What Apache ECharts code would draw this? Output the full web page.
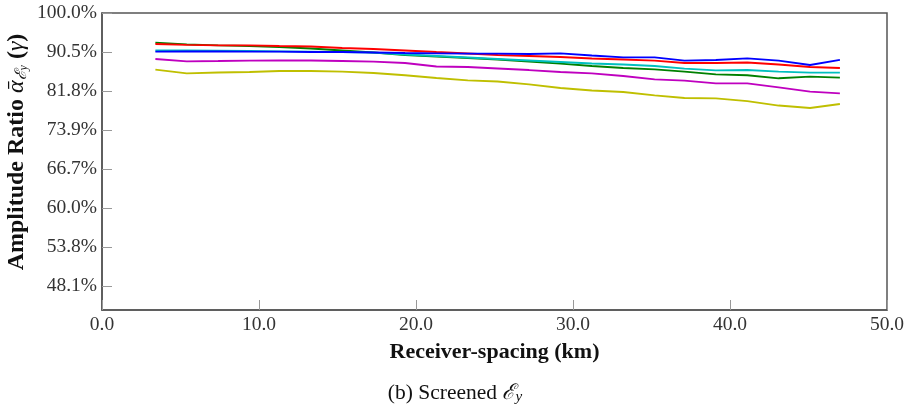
<!DOCTYPE html>
<html>
<head>
<meta charset="utf-8">
<script src="https://cdn.jsdelivr.net/npm/echarts@6/dist/echarts.min.js"></script>
<style>html,body{margin:0;padding:0;background:#fff}#c{width:911px;height:411px}</style>
</head>
<body>
<div id="c"></div>
<script>
// Receiver spacing (km)
const X_KM = [3.4, 5.4, 7.4, 9.4, 11.3, 13.3, 15.3, 17.3, 19.3, 21.3, 23.3, 25.2, 27.2, 29.2, 31.2, 33.2, 35.2, 37.1, 39.1, 41.1, 43.1, 45.1, 47.0];

// Amplitude ratio (%) per series
const RED     = [92.45, 92.25, 92.13, 92.13, 91.96, 91.84, 91.47, 91.23, 90.87, 90.50, 90.17, 89.83, 89.61, 89.38, 89.05, 88.83, 88.56, 88.05, 88.05, 88.16, 87.71, 87.15, 86.93];
const GREEN   = [92.77, 92.38, 92.13, 91.96, 91.72, 91.35, 90.87, 90.39, 89.83, 89.50, 89.16, 88.83, 88.38, 87.93, 87.38, 86.93, 86.64, 86.11, 85.53, 85.31, 84.64, 84.99, 84.77];
const BLUE    = [90.57, 90.62, 90.62, 90.57, 90.57, 90.50, 90.50, 90.39, 90.28, 90.21, 90.12, 90.12, 90.05, 90.21, 89.72, 89.32, 89.32, 88.56, 88.72, 89.09, 88.56, 87.60, 88.72];
const CYAN    = [90.87, 90.87, 90.82, 90.74, 90.67, 90.57, 90.46, 90.34, 89.94, 89.61, 89.27, 88.94, 88.60, 88.27, 87.93, 87.71, 87.38, 86.78, 86.42, 86.48, 86.11, 85.88, 85.88];
const MAGENTA = [88.94, 88.43, 88.49, 88.56, 88.60, 88.60, 88.49, 88.34, 88.05, 87.27, 87.15, 86.82, 86.48, 86.04, 85.71, 85.15, 84.41, 84.10, 83.52, 83.52, 82.63, 81.66, 81.33];
const YELLOW  = [86.59, 85.75, 85.93, 86.04, 86.26, 86.26, 86.11, 85.82, 85.31, 84.70, 84.15, 83.92, 83.26, 82.47, 81.91, 81.60, 80.93, 80.38, 80.32, 79.77, 78.86, 78.36, 79.17];

// Y tick labels (evenly spaced on the axis)
const Y_TICK_VALUES = [100.0, 90.5, 81.8, 73.9, 66.7, 60.0, 53.8, 48.1];
const Y_TICK_LABELS = ['100.0%', '90.5%', '81.8%', '73.9%', '66.7%', '60.0%', '53.8%', '48.1%'];

// map a percentage onto the evenly spaced tick positions (0 = top tick)
function toAxis(p) {
  for (let i = 0; i < Y_TICK_VALUES.length - 1; i++) {
    const a = Y_TICK_VALUES[i], b = Y_TICK_VALUES[i + 1];
    if (p <= a && p >= b) return i + (a - p) / (a - b);
  }
  return p > Y_TICK_VALUES[0] ? 0 : Y_TICK_VALUES.length - 1;
}
const pts = arr => X_KM.map((x, i) => [x, toAxis(arr[i])]);

const FONT = '"Liberation Serif", "DejaVu Serif", serif';
const AXIS_COLOR = '#555';

const seriesDefs = [
  ['green', GREEN, '#008000'],
  ['red', RED, '#ff0000'],
  ['cyan', CYAN, '#00bfbf'],
  ['blue', BLUE, '#0000ff'],
  ['magenta', MAGENTA, '#bf00bf'],
  ['yellow', YELLOW, '#bfbf00']
];

const chart = echarts.init(document.getElementById('c'), null, {renderer: 'canvas'});
chart.setOption({
  animation: false,
  backgroundColor: '#fff',
  grid: {left: 102, right: 24, top: 13, bottom: 101, show: true, borderColor: AXIS_COLOR, borderWidth: 1.5, backgroundColor: 'transparent'},
  xAxis: {
    type: 'value', min: 0, max: 50, interval: 10,
    name: 'Receiver-spacing (km)', nameLocation: 'middle', nameGap: 31,
    nameTextStyle: {fontFamily: FONT, fontSize: 22, fontWeight: 'bold', color: '#111'},
    axisLine: {show: true, onZero: false, lineStyle: {color: AXIS_COLOR, width: 1.5}},
    axisTick: {show: true, inside: true, length: 10, lineStyle: {color: '#999', width: 1}},
    axisLabel: {fontFamily: FONT, fontSize: 19.5, color: '#333', margin: 5, formatter: v => v.toFixed(1)},
    splitLine: {show: false}
  },
  yAxis: {
    type: 'value', min: 0, max: 7.615, interval: 1, inverse: true,
    axisLine: {show: true, onZero: false, lineStyle: {color: AXIS_COLOR, width: 1.5}},
    axisTick: {show: true, inside: true, length: 10, lineStyle: {color: '#999', width: 1}, customValues: Y_TICK_LABELS.map((_, i) => i)},
    axisLabel: {fontFamily: FONT, fontSize: 19.5, color: '#333', margin: 5, customValues: Y_TICK_LABELS.map((_, i) => i),
      formatter: v => { const i = Math.round(v); return Math.abs(v - i) < 1e-6 && i < Y_TICK_LABELS.length ? Y_TICK_LABELS[i] : ''; }},
    splitLine: {show: false}
  },
  series: seriesDefs.map(([name, arr, color]) => ({
    name, type: 'line', data: pts(arr), showSymbol: false, symbol: 'none',
    lineStyle: {color, width: 1.8}, itemStyle: {color}
  })),
  graphic: [
    {
      type: 'text', x: 17, y: 152, rotation: Math.PI / 2,
      style: {
        text: '{b|Amplitude Ratio }{a|α\u0304}{s|ℰ}{ss|y}{b| (}{g|γ}{b|)}',
        align: 'center', verticalAlign: 'middle', fill: '#111',
        rich: {
          b: {fontFamily: FONT, fontSize: 24, fontWeight: 'bold', fill: '#111'},
          a: {fontFamily: FONT, fontSize: 24, fontStyle: 'italic', fill: '#111'},
          s: {fontFamily: FONT, fontSize: 16, fontStyle: 'italic', fill: '#111', verticalAlign: 'bottom', padding: [9, 0, 0, 0]},
          ss: {fontFamily: FONT, fontSize: 12, fontStyle: 'italic', fill: '#111', verticalAlign: 'bottom', padding: [14, 0, 0, 0]},
          g: {fontFamily: FONT, fontSize: 24, fontStyle: 'italic', fill: '#111'}
        }
      }
    },
    {
      type: 'text', x: 455, y: 393,
      style: {
        text: '{n|(b) Screened }{e|ℰ}{y|y}',
        align: 'center', verticalAlign: 'middle', fill: '#111',
        rich: {
          n: {fontFamily: FONT, fontSize: 21.5, fill: '#111'},
          e: {fontFamily: FONT, fontSize: 21.5, fontStyle: 'italic', fill: '#111'},
          y: {fontFamily: FONT, fontSize: 15, fontStyle: 'italic', fill: '#111', verticalAlign: 'bottom', padding: [9, 0, 0, 0]}
        }
      }
    }
  ]
});
</script>
</body>
</html>
